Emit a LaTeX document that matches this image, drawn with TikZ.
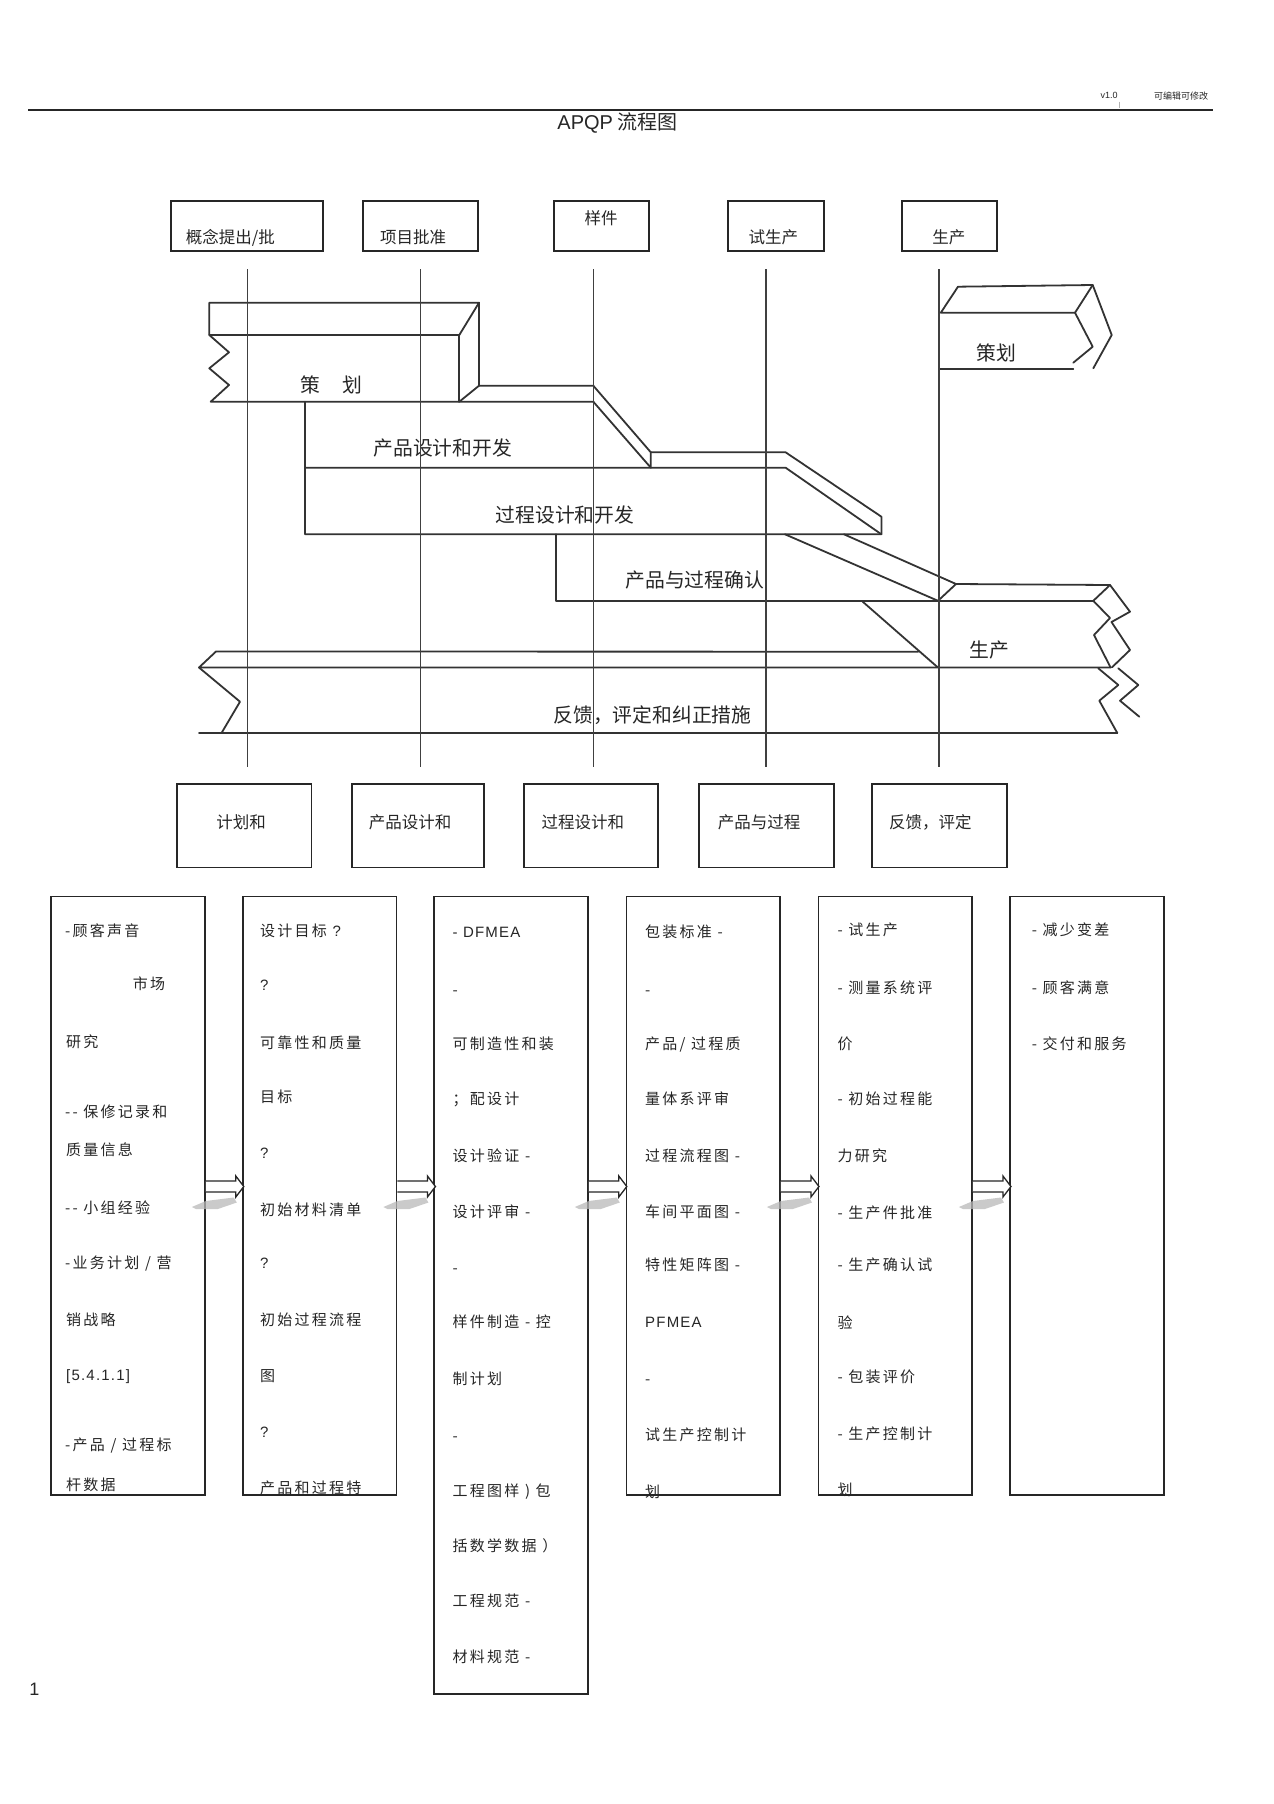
\documentclass[tikz,border=0pt]{standalone}
\usepackage{fontspec}
\setmainfont{Noto Sans CJK SC}
\newfontfamily\lat{Liberation Sans}
\newfontfamily\latsp{Liberation Sans}[LetterSpace=8]
\newfontfamily\boxf{Noto Sans CJK SC}[LetterSpace=15]
\begin{document}
\begin{tikzpicture}[x=1pt,y=-1pt,
  bar/.style={draw=black!80, line width=1.8pt, line join=round, line cap=round},
  vline/.style={draw=black!75, line width=1.6pt},
  tbox/.style={draw=black!85, line width=2pt, minimum height=50.3pt, inner sep=0pt},
  pbox/.style={draw=black!85, line width=1.8pt, minimum height=83.2pt, inner sep=0pt},
  cbox/.style={draw=black!85, line width=1.8pt, minimum width=153.6pt, inner sep=0pt},
  lab/.style={inner sep=0pt, text=black!85},
  big/.style={lab, font=\fontsize{19.8}{24}\selectfont, text height=17.4pt, text depth=2.4pt},
  mid/.style={lab, font=\fontsize{16.5}{20}\selectfont, text height=14.5pt, text depth=2pt},
  rowt/.style={lab, anchor=west, font=\boxf\fontsize{15}{18}\selectfont, text height=13.2pt, text depth=1.8pt},
  arrowst/.style={draw=black!85, fill=white, line width=1.3pt, line join=miter},
  shad/.style={fill=gray!55, opacity=0.75}
]
\useasboundingbox (0,0) rectangle (1274,1804);
\fill[white] (0,0) rectangle (1274,1804);

% ---------- header ----------
\draw[black!85, line width=1.6pt] (28.4,110) -- (1213,110);
\node[lab, font=\lat\fontsize{9}{10}\selectfont] (ver) at (1109,95.7) {v1.0};
\node[lab, font=\fontsize{9}{10}\selectfont] (edit) at (1181,95.7) {可编辑可修改};
\draw[black!30, line width=0.5pt] (1119.6,101.7) -- (1119.6,108.3);
\node[lab, font=\fontsize{20}{24}\selectfont] (title) at (617.5,123.3) {{\lat APQP} 流程图};

% ---------- top milestone boxes ----------
\node[tbox, minimum width=152.6pt] (T1) at (247,225.85) {};
\node[tbox, minimum width=115pt]   (T2) at (420.8,225.85) {};
\node[tbox, minimum width=94.9pt]  (T3) at (601.75,225.85) {};
\node[tbox, minimum width=95.4pt]  (T4) at (775.9,225.85) {};
\node[tbox, minimum width=95pt]    (T5) at (949.2,225.85) {};
\node[mid] (T1t) at (230.3,237.7) {概念提出/批};
\node[mid] (T2t) at (413,237.7) {项目批准};
\node[mid] (T3t) at (601,218.3) {样件};
\node[mid] (T4t) at (773.4,237.7) {试生产};
\node[mid] (T5t) at (948.8,237.7) {生产};

% ---------- planning bar ----------
\draw[bar] (209.3,335) -- (209.3,302.7) -- (479,302.7) -- (459.3,335) -- cycle;
\draw[bar] (459.3,335) -- (459.3,401.7);
\draw[bar] (479,302.7) -- (479,385.7) -- (459.3,401.7);
\draw[bar] (209.3,335) -- (229,352.3) -- (209.3,368.3) -- (229,385) -- (210.7,401.7) -- (593.3,401.7);
% product design bar
\draw[bar] (479,385.7) -- (593.3,385.7) -- (650.8,452.3) -- (650.8,467.7) -- (593.3,401.7);
\draw[bar] (305,401.7) -- (305,534.3) -- (881.4,534.3) -- (881.4,516.7) -- (785.6,452.3) -- (650.8,452.3);
\draw[bar] (305,467.7) -- (785.6,467.7) -- (881.4,534.3);
% validation bar
\draw[bar] (555.7,534.3) -- (555.7,600.8) -- (1093.3,600.8);
\draw[bar] (785,534.3) -- (938,600.8);
\draw[bar] (844,534.3) -- (956,584) -- (938,600.8);
% production bar
\draw[bar] (956,584) -- (1110,585) -- (1093.3,600.8);
\draw[bar] (1093.3,600.8) -- (1110,618) -- (1094,635) -- (1110.5,667.3);
\draw[bar] (1110,585) -- (1130,611.7) -- (1111.5,622) -- (1130,650) -- (1112,667.3);
\draw[bar] (862.7,601.7) -- (937.7,667.3);
% feedback bar
\draw[bar] (918.3,651.7) -- (216,651.5) -- (199,667.5) -- (1111,667.5);
\draw[bar] (199,667.5) -- (240,701.7) -- (221.7,732.7);
\draw[bar] (199,733) -- (1117.3,733);
\draw[bar] (1098.3,668.3) -- (1118.3,685) -- (1099.3,700.7) -- (1117.3,733);
\draw[bar] (1118.3,668.3) -- (1138.3,685) -- (1120,700.7) -- (1139.3,716.7);
% right planning bar
\draw[bar] (940.8,312.7) -- (958,286.7) -- (1092.7,285) -- (1075,312.7) -- cycle;
\draw[bar] (1075,312.7) -- (1092.7,346.7) -- (1073.3,362.7);
\draw[bar] (1092.7,285) -- (1111.7,335) -- (1093.3,368.3);
\draw[bar] (939,369) -- (1073.3,369);

% ---------- bar labels ----------
\node[big] (plan1) at (310,385) {策};
\node[big] (plan2) at (352.5,385) {划};
\node[big] (pdd) at (442.8,448.3) {产品设计和开发};
\node[big] (prd) at (565,515) {过程设计和开发};
\node[big] (val) at (694.7,580) {产品与过程确认};
\node[big] (plan3) at (996,352.7) {策划};
\node[big] (prod) at (989,650) {生产};
\node[big] (fb) at (652.5,714.6) {反馈，评定和纠正措施};

% ---------- vertical timeline lines ----------
\foreach \vx in {247.6,420.5,593.3,766,939}
  \draw[vline] (\vx,269) -- (\vx,766.7);

% ---------- phase boxes ----------
\node[pbox, minimum width=134.2pt] (P1) at (244.4,825.9) {};
\node[pbox, minimum width=132.7pt] (P2) at (418,825.9) {};
\node[pbox, minimum width=134pt]   (P3) at (591.3,825.9) {};
\node[pbox, minimum width=134.7pt] (P4) at (766.65,825.9) {};
\node[pbox, minimum width=135pt]   (P5) at (939.8,825.9) {};
\node[mid] (P1t) at (241,822) {计划和};
\node[mid] (P2t) at (410,822) {产品设计和};
\node[mid] (P3t) at (582.8,822) {过程设计和};
\node[mid] (P4t) at (759,822) {产品与过程};
\node[mid] (P5t) at (930.3,822) {反馈，评定};

% ---------- content boxes ----------
\node[cbox, minimum height=598.5pt] (C1) at (128.1,1195.75) {};
\node[cbox, minimum height=598.5pt] (C2) at (319.75,1195.75) {};
\node[cbox, minimum height=797.2pt] (C3) at (511.1,1295.1) {};
\node[cbox, minimum height=598.5pt] (C4) at (703.25,1195.75) {};
\node[cbox, minimum height=598.5pt] (C5) at (895.25,1195.75) {};
\node[cbox, minimum height=598.5pt] (C6) at (1087,1195.75) {};

% arrows between content boxes
\coordinate (ay) at (0,1186.5);
\foreach \a in {C1,C2,C3,C4,C5} {
  \fill[shad, shift={(\a.east |- ay)}] (-14,20.5) -- (0,14.5) -- (28,11) -- (31,16) -- (12,22.5) -- (-10,22.5) -- cycle;
  \draw[arrowst, shift={(\a.east |- ay)}] (0,-5.5) -- (30,-5.5) -- (30,-10.5) -- (38,0) -- (30,10.5) -- (30,5.5) -- (0,5.5);
}

% box 1
\node[rowt] (a1) at (65,930.5) {-顾客声音};
\node[rowt] (a2) at (132.7,983.3) {市场};
\node[rowt] (a3) at (66,1041.4) {研究};
\node[rowt] (a4) at (65,1112) {-- 保修记录和};
\node[rowt] (a5) at (66,1149.9) {质量信息};
\node[rowt] (a6) at (65,1208) {-- 小组经验};
\node[rowt] (a7) at (65,1263.2) {-业务计划 / 营};
\node[rowt] (a8) at (66,1319.8) {销战略};
\node[rowt] (a9) at (66,1375) {\latsp [5.4.1.1]};
\node[rowt] (a10) at (65,1444.8) {-产品 / 过程标};
\node[rowt] (a11) at (66,1485) {杆数据};
% box 2
\node[rowt] (b1) at (260,930.5) {设计目标 {\latsp ?}};
\node[rowt] (b2) at (260,984.7) {\latsp ?};
\node[rowt] (b3) at (260,1042.8) {可靠性和质量};
\node[rowt] (b4) at (260,1096.6) {目标};
\node[rowt] (b5) at (260,1153.2) {\latsp ?};
\node[rowt] (b6) at (260,1209.8) {初始材料清单};
\node[rowt] (b7) at (260,1263.2) {\latsp ?};
\node[rowt] (b8) at (260,1319.8) {初始过程流程};
\node[rowt] (b9) at (260,1375.5) {图};
\node[rowt] (b10) at (260,1432.1) {\latsp ?};
\node[rowt] (b11) at (260,1487.3) {产品和过程特};
% box 3
\node[rowt] (c1) at (452.5,931.4) {\latsp - DFMEA};
\node[rowt] (c2) at (452.5,989.6) {-};
\node[rowt] (c3) at (452.5,1044.1) {可制造性和装};
\node[rowt] (c4) at (452.5,1098.6) {；配设计};
\node[rowt] (c5) at (452.5,1155.3) {设计验证 -};
\node[rowt] (c6) at (452.5,1211.9) {设计评审 -};
\node[rowt] (c7) at (452.5,1267.5) {-};
\node[rowt] (c8) at (452.5,1322) {样件制造 - 控};
\node[rowt] (c9) at (452.5,1378.7) {制计划};
\node[rowt] (c10) at (452.5,1435.9) {-};
\node[rowt] (c11) at (452.5,1490.4) {工程图样 ) 包};
\node[rowt] (c12) at (452.5,1545.4) {括数学数据 ）};
\node[rowt] (c13) at (452.5,1601) {工程规范 -};
\node[rowt] (c14) at (452.5,1657.1) {材料规范 -};
% box 4
\node[rowt] (d1) at (645,931.4) {包装标准 -};
\node[rowt] (d2) at (645,989.6) {-};
\node[rowt] (d3) at (645,1044.1) {产品/ 过程质};
\node[rowt] (d4) at (645,1098.6) {量体系评审};
\node[rowt] (d5) at (645,1155.3) {过程流程图 -};
\node[rowt] (d6) at (645,1211.9) {车间平面图 -};
\node[rowt] (d7) at (645,1264.9) {特性矩阵图 -};
\node[rowt] (d8) at (645,1322) {\latsp PFMEA};
\node[rowt] (d9) at (645,1379.2) {-};
\node[rowt] (d10) at (645,1434.8) {试生产控制计};
\node[rowt] (d11) at (645,1491.4) {划};
% box 5
\node[rowt] (e1) at (837.3,929.8) {- 试生产};
\node[rowt] (e2) at (837.3,988.2) {- 测量系统评};
\node[rowt] (e3) at (837.3,1043.3) {价};
\node[rowt] (e4) at (837.3,1098.4) {- 初始过程能};
\node[rowt] (e5) at (837.3,1155.5) {力研究};
\node[rowt] (e6) at (837.3,1212.7) {- 生产件批准};
\node[rowt] (e7) at (837.3,1264.5) {- 生产确认试};
\node[rowt] (e8) at (837.3,1322.9) {验};
\node[rowt] (e9) at (837.3,1377.1) {- 包装评价};
\node[rowt] (e10) at (837.3,1433.9) {- 生产控制计};
\node[rowt] (e11) at (837.3,1490.2) {划};
% box 6
\node[rowt] (f1) at (1031.7,929.8) {- 减少变差};
\node[rowt] (f2) at (1031.7,988.2) {- 顾客满意};
\node[rowt] (f3) at (1031.7,1044) {- 交付和服务};

% page number
\node[lab, font=\lat\fontsize{18}{20}\selectfont] (pg) at (34.5,1689) {1};
\end{tikzpicture}
\end{document}
